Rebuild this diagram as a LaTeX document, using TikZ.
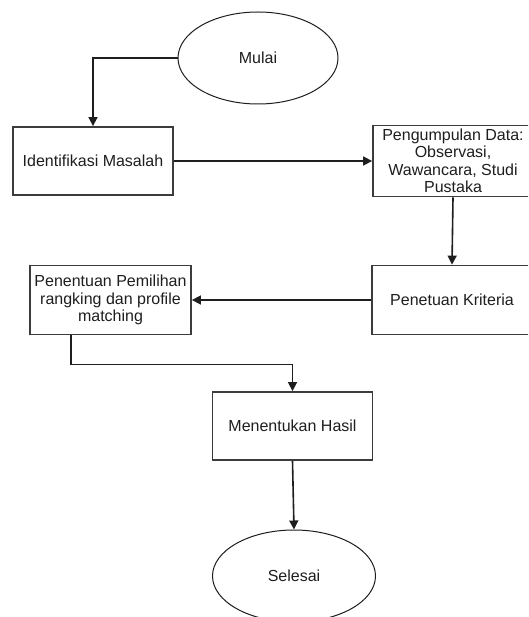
\documentclass[tikz,border=0pt]{standalone}
\usepackage{fontspec}
\setmainfont{Liberation Sans}
\usetikzlibrary{shapes.geometric,arrows.meta}
\definecolor{edge}{RGB}{60,60,60}
\definecolor{ink}{RGB}{30,30,30}

\tikzset{
  stepbox/.style={draw=edge, line width=1.8pt, rectangle, minimum width=160pt,
    minimum height=68pt, align=center, text=ink, font=\fontsize{16}{17.5}\selectfont},
  terminal/.style={draw=ink, line width=1pt, ellipse, minimum width=160pt,
    minimum height=92pt, text=ink, font=\fontsize{16}{17.5}\selectfont},
  arr/.style={draw=ink, line width=1.6pt, -{Triangle[length=9pt,width=9pt]}}
}

\begin{document}
\begin{tikzpicture}[x=1pt,y=-1pt]
% frame of the picture (the boxes on the right run off the edge)
\useasboundingbox (0,0) rectangle (528,617);
\clip (0,0) rectangle (528,617);
\fill[white] (0,0) rectangle (528,617);
% start and end
\node[terminal] (mulai) at (258,58) {Mulai};
\node[terminal, minimum width=163pt] (selesai) at (294,576) {Selesai};
% steps
\node[stepbox] (identifikasi) at (93,161) {Identifikasi Masalah};
\node[stepbox, minimum height=69pt] (pengumpulan) at (453,161)
  {Pengumpulan Data:\\Observasi,\\Wawancara, Studi\\Pustaka};
\node[stepbox, minimum height=69pt] (kriteria) at (452,300) {Penetuan Kriteria};
\node[stepbox, minimum width=161pt, minimum height=69pt] (penentuan) at (110.5,300)
  {Penentuan Pemilihan\\rangking dan profile\\matching};
\node[stepbox] (hasil) at (292.5,426) {Menentukan Hasil};
% flow
\draw[arr] (mulai.west) -| (identifikasi.north);
\draw[arr] (identifikasi.east) -- (pengumpulan.west);
\draw[arr] (pengumpulan.south) -- (kriteria.north);
\draw[arr] (kriteria.west) -- (penentuan.east);
\draw[arr] ([xshift=-39.5pt]penentuan.south) -- ++(0,29) -| (hasil.north);
\draw[arr] (hasil.south) -- (selesai.north);
\end{tikzpicture}
\end{document}
